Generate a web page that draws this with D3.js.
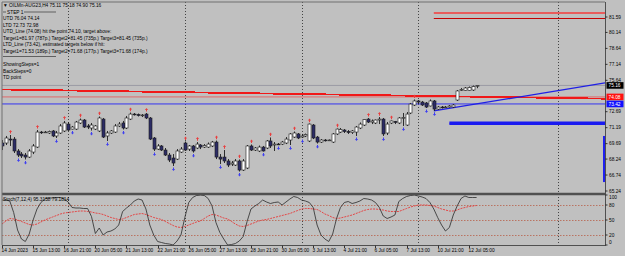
<!DOCTYPE html>
<html>
<head>
<meta charset="utf-8">
<script src="https://cdn.jsdelivr.net/npm/d3@7"></script>
<style>
body { margin: 0; background: #c0c0c0; }
svg { display: block; font-family: "Liberation Sans", Arial, sans-serif; }
</style>
</head>
<body>
<div id="chart"></div>
<script>
// H4 bars, 14 Jun 2023 05:00 .. 12 Jul 2023
var opens = [69.75,69.75,70.12,70.12,69.00,68.71,68.62,68.43,68.90,69.37,
  70.78,70.74,70.69,70.88,70.41,70.69,70.88,71.53,71.06,71.06,
  71.63,71.91,71.35,71.16,71.06,70.88,72.00,70.41,70.69,70.78,
  71.35,71.63,71.16,72.00,72.47,72.43,72.33,72.47,72.10,70.22,
  69.18,69.47,69.09,68.62,68.34,68.24,68.90,69.75,69.18,69.47,
  69.28,69.56,69.37,69.37,69.47,69.84,68.43,68.43,68.06,67.77,
  67.68,68.06,67.21,67.40,69.47,69.09,69.00,69.37,69.28,69.94,
  69.56,69.65,69.65,69.75,70.03,70.31,70.60,70.31,70.41,69.94,
  71.44,70.31,69.84,70.03,69.98,69.84,70.60,70.78,70.97,70.83,
  70.74,70.78,71.16,71.44,72.00,71.72,71.63,71.91,72.00,70.69,
  71.63,71.77,71.63,72.10,71.44,72.57,73.32,73.70,73.60,73.51,
  73.23,73.70,72.94,73.13,73.08,73.13,73.13,73.79,74.73,74.68,
  74.68,74.73,75.11];
var highs = [70.03,70.41,70.50,70.31,69.18,68.90,68.81,69.18,69.65,70.97,
  70.88,70.88,70.92,70.97,70.88,71.53,71.82,71.72,71.35,71.82,
  72.05,72.00,71.53,71.63,71.44,72.24,72.10,70.88,70.97,71.53,
  71.72,71.82,72.29,72.61,72.57,72.52,72.47,72.57,72.19,70.31,
  69.65,69.56,69.28,68.81,68.71,69.18,69.37,69.89,69.56,69.56,
  69.84,69.65,69.65,69.80,69.94,69.98,68.71,69.09,68.24,68.06,
  68.24,68.20,68.24,69.56,69.61,69.37,69.51,69.47,70.03,70.27,
  69.84,69.75,69.94,70.31,70.69,70.83,70.69,70.60,70.64,71.58,
  71.53,70.41,70.12,70.12,70.08,70.69,71.11,71.16,71.06,70.97,
  70.97,71.35,71.68,72.00,72.10,71.96,71.96,72.19,72.10,71.72,
  71.86,71.82,72.19,72.57,72.66,73.51,73.84,73.79,73.70,73.60,
  73.84,73.79,73.23,73.23,73.23,73.32,73.41,74.73,74.92,75.01,
  75.06,75.15,75.18];
var lows = [69.09,69.56,69.47,68.81,68.43,68.34,68.20,68.34,68.71,69.28,
  70.60,70.69,70.60,70.31,70.22,70.60,70.78,70.88,71.02,70.97,
  71.53,71.16,71.06,70.92,70.97,70.78,70.22,69.94,70.60,70.69,
  71.25,71.02,71.06,71.91,72.33,72.24,72.19,72.00,70.03,69.00,
  69.09,69.00,68.53,67.96,67.59,68.15,68.81,69.00,69.00,68.85,
  69.18,69.18,69.28,69.28,69.37,68.24,67.77,67.87,67.49,67.59,
  67.59,67.07,67.12,67.30,69.00,69.00,68.90,68.95,69.18,69.28,
  69.00,69.56,69.56,69.65,69.56,70.22,70.12,70.22,70.31,69.84,
  70.12,69.70,69.75,69.89,69.94,69.75,70.50,70.69,70.69,70.60,
  70.60,70.41,71.06,71.35,71.63,71.53,71.53,71.53,70.41,70.50,
  71.53,71.53,71.53,71.35,71.35,72.47,73.23,73.41,73.23,73.04,
  73.18,72.76,72.85,72.99,73.04,73.08,73.04,73.70,74.64,74.64,
  74.64,74.64,74.90];
var closes = [69.47,70.22,70.03,69.00,68.62,68.53,68.43,69.00,69.47,70.78,
  70.74,70.78,70.83,70.41,70.69,71.35,71.63,70.97,71.25,71.72,
  71.91,71.25,71.25,71.44,71.35,72.10,70.31,70.69,70.88,71.35,
  71.53,71.16,72.10,72.47,72.43,72.33,72.38,72.10,70.12,69.18,
  69.47,69.09,68.62,68.15,67.87,69.00,69.18,69.09,69.47,69.00,
  69.65,69.37,69.51,69.65,69.84,68.43,68.24,68.06,67.68,67.87,
  68.06,67.21,68.06,69.47,69.09,69.28,69.37,69.00,69.94,69.47,
  69.65,69.61,69.84,70.12,70.60,70.69,70.22,70.41,70.55,71.53,
  70.22,69.84,70.03,69.98,70.03,70.60,71.06,71.02,70.83,70.74,
  70.88,71.25,71.53,71.96,71.72,71.82,71.91,72.00,70.60,71.53,
  71.82,71.68,72.10,72.15,72.47,73.41,73.70,73.60,73.32,73.13,
  73.70,72.94,73.13,73.08,73.13,73.23,73.32,74.64,74.78,74.92,
  74.97,75.06,75.16];

// fractal arrows (bar index)
var upFractals = [2, 9, 16, 20, 25, 33, 37, 47, 50, 55, 57, 61, 64, 69, 75, 79, 86, 94, 97, 100, 106];
var downFractals = [4, 6, 14, 18, 23, 27, 31, 39, 44, 49, 56, 61, 67, 71, 74, 77, 81, 91, 98, 103, 109, 111];

// stochastic (7,12,4) main and signal, one value per bar
var stochMain = [90,90,88,65,30,12,7,22,50,72,85,92,94,94,95,95,92,86,75,74,
  74,73,73,57,23,34,20,26,28,32,40,67,74,80,88,92,90,72,40,20,
  7,5,3,2,0,8,20,55,85,95,99,100,99,93,78,45,25,12,0,1,
  3,8,17,47,72,78,83,90,86,83,85,86,80,86,92,97,95,90,88,85,
  75,40,20,12,7,22,53,75,85,87,83,85,88,93,92,90,85,75,58,53,
  56,60,87,93,97,99,100,98,96,93,85,72,55,40,28,35,60,78,93,98,
  95,95,95];
var stochSignal = [42,48,53,52,50,47,44,41,40,42,46,50,53,56,59,62,64,65,66,67,
  68,68,67,66,64,63,61,58,55,53,51,52,55,58,61,62,63,61,58,55,
  53,51,47,43,39,36,35,37,40,43,46,48,53,58,61,60,57,54,52,47,
  42,38,37,39,42,45,48,50,51,53,55,57,59,61,63,66,69,72,73,73,
  72,71,67,62,59,55,53,54,56,58,60,63,66,69,71,72,72,71,70,68,
  67,67,67,70,73,76,78,80,80,80,79,78,75,72,70,68,68,70,73,75,
  77,78,79];
var stochLevels = [80, 50, 20];
var stochTicks = [100, 80, 50, 20, 0];

// price axis
var priceTicks = [81.59, 80.14, 78.64, 77.14, 75.64, 72.69, 71.19, 69.69, 68.24, 66.74, 65.24];
var bidPrice = 75.16;
var utdLevel = 74.08;
var ltdLevel = 73.42;
// UTD trend line (bar, price) and LTD trend line (bar, price)
var utdLine = [[0, 74.78], [122, 74.10]];
var ltdLine = [[111, 72.76], [122, 73.42]];
var upTargets = [81.97, 81.45];
var downTargets = [71.68, 71.53];
var blueBar = [70.41, 66.08];

// time axis
var timeLabels = ["14 Jun 2023", "15 Jun 13:00", "16 Jun 21:00", "20 Jun 05:00", "21 Jun 13:00",
  "22 Jun 21:00", "26 Jun 05:00", "27 Jun 13:00", "28 Jun 21:00", "30 Jun 05:00", "3 Jul 13:00",
  "4 Jul 21:00", "6 Jul 05:00", "7 Jul 13:00", "10 Jul 21:00", "12 Jul 05:00"];
var gridBars = [17, 47, 77, 107, 143];

var legendLines = [
  "UTD 76.04  74.14",
  "LTD  72.73  72.98",
  "UTD_Line (74.08) hit the point 74.10, target above:",
  "Target1=81.97 (787p.) Target2=81.45 (735p.) Target3=81.45 (735p.)",
  "LTD_Line (73.42), estimated targets below if hit:",
  "Target1=71.53 (189p.) Target2=71.68 (177p.) Target3=71.68 (174p.)"
];
var legendLines2 = ["ShowingSteps=1", "BackSteps=0", "TD point"];

function drawChart() {
  var width = 625;
  var height = 256;
  var axisX = 605;
  var fs = 4.8;

  var x = d3.scaleLinear().domain([0, 122]).range([2, 476.6]);
  var y = d3.scaleLinear().domain([65.24, 81.59]).range([191, 17]);
  var ys = d3.scaleLinear().domain([0, 100]).range([245, 195]);
  var lastBar = x.invert(axisX);

  var svg = d3.select('#chart').append('svg')
    .attr('width', width)
    .attr('height', height);

  svg.append('rect').attr('width', width).attr('height', height).attr('fill', '#c0c0c0');

  var defs = svg.append('defs');
  defs.append('clipPath').attr('id', 'clipMain')
    .append('rect').attr('x', 2).attr('y', 2).attr('width', axisX - 2).attr('height', 191);
  defs.append('clipPath').attr('id', 'clipSub')
    .append('rect').attr('x', 2).attr('y', 195).attr('width', axisX - 2).attr('height', 50);

  // vertical grid
  svg.append('g').selectAll('line')
    .data(gridBars)
    .enter().append('line')
      .attr('x1', d => Math.round(x(d)) + 0.5)
      .attr('x2', d => Math.round(x(d)) + 0.5)
      .attr('y1', 2).attr('y2', 245)
      .attr('stroke', '#444')
      .attr('stroke-dasharray', '1,2');

  var main = svg.append('g').attr('clip-path', 'url(#clipMain)');

  // horizontal levels
  main.append('line')
    .attr('x1', 2).attr('x2', axisX)
    .attr('y1', y(bidPrice)).attr('y2', y(bidPrice))
    .attr('stroke', '#9a9aa4').attr('stroke-width', 1);
  main.append('line')
    .attr('x1', 2).attr('x2', axisX)
    .attr('y1', y(utdLevel)).attr('y2', y(utdLevel))
    .attr('stroke', '#e06868').attr('stroke-width', 1);
  main.append('line')
    .attr('x1', 2).attr('x2', axisX)
    .attr('y1', y(ltdLevel)).attr('y2', y(ltdLevel))
    .attr('stroke', '#3434f0').attr('stroke-width', 1);

  // UTD trend line, extended to the right edge
  var utdSlope = (utdLine[1][1] - utdLine[0][1]) / (utdLine[1][0] - utdLine[0][0]);
  main.append('line')
    .attr('x1', x(utdLine[0][0])).attr('y1', y(utdLine[0][1]))
    .attr('x2', x(lastBar)).attr('y2', y(utdLine[0][1] + utdSlope * (lastBar - utdLine[0][0])))
    .attr('stroke', '#f01818').attr('stroke-width', 1.8)
    .attr('shape-rendering', 'crispEdges');

  // LTD trend line
  var ltdSlope = (ltdLine[1][1] - ltdLine[0][1]) / (ltdLine[1][0] - ltdLine[0][0]);
  main.append('line')
    .attr('x1', x(ltdLine[0][0])).attr('y1', y(ltdLine[0][1]))
    .attr('x2', x(lastBar)).attr('y2', y(ltdLine[0][1] + ltdSlope * (lastBar - ltdLine[0][0])))
    .attr('stroke', '#1f1fe6').attr('stroke-width', 1.3);

  // targets
  main.append('line')
    .attr('x1', x(111)).attr('x2', axisX)
    .attr('y1', y(upTargets[0])).attr('y2', y(upTargets[0]))
    .attr('stroke', '#e85c5c').attr('stroke-width', 2);
  main.append('line')
    .attr('x1', x(111)).attr('x2', axisX)
    .attr('y1', y(upTargets[1])).attr('y2', y(upTargets[1]))
    .attr('stroke', '#c40000').attr('stroke-width', 1);
  main.selectAll('.dtarget')
    .data(downTargets)
    .enter().append('line')
      .attr('x1', x(115)).attr('x2', axisX)
      .attr('y1', d => y(d)).attr('y2', d => y(d))
      .attr('stroke', '#1a1af0').attr('stroke-width', 2);

  main.append('rect')
    .attr('x', axisX - 2).attr('width', 2)
    .attr('y', y(blueBar[0])).attr('height', y(blueBar[1]) - y(blueBar[0]))
    .attr('fill', '#2020f0');

  // candles
  var bars = d3.range(opens.length);
  var candles = main.append('g');
  candles.selectAll('.wick')
    .data(bars)
    .enter().append('line')
      .attr('x1', i => Math.round(x(i)) + 0.5)
      .attr('x2', i => Math.round(x(i)) + 0.5)
      .attr('y1', i => y(highs[i]))
      .attr('y2', i => y(lows[i]))
      .attr('stroke', '#1c1c1c').attr('stroke-width', 0.9);
  candles.selectAll('.body')
    .data(bars)
    .enter().append('rect')
      .attr('x', i => Math.round(x(i)) - 1)
      .attr('width', 3)
      .attr('y', i => y(Math.max(opens[i], closes[i])))
      .attr('height', i => Math.max(0.8, Math.abs(y(opens[i]) - y(closes[i]))))
      .attr('fill', i => closes[i] >= opens[i] ? '#ffffff' : '#2c2c66')
      .attr('stroke', '#1c1c1c').attr('stroke-width', 0.6);

  // fractal arrows
  candles.selectAll('.up')
    .data(upFractals)
    .enter().append('path')
      .attr('transform', i => 'translate(' + (Math.round(x(i)) + 0.5) + ',' + (y(highs[i]) - 3) + ')')
      .attr('d', 'M0,-2L-1.6,0L-0.5,0L-0.5,1.6L0.5,1.6L0.5,0L1.6,0Z')
      .attr('fill', '#e84040');
  candles.selectAll('.down')
    .data(downFractals)
    .enter().append('path')
      .attr('transform', i => 'translate(' + (Math.round(x(i)) + 0.5) + ',' + (y(lows[i]) + 3) + ')')
      .attr('d', 'M0,2L-1.6,0L-0.5,0L-0.5,-1.6L0.5,-1.6L0.5,0L1.6,0Z')
      .attr('fill', '#4040f0');

  // legend
  var leg = svg.append('g').attr('font-size', fs).attr('fill', '#000');
  leg.append('text').attr('x', 3).attr('y', 7).text('\u25BC OILMn-AUG23,H4  75.11 75.18 74.90 75.16');
  leg.append('text').attr('x', 7).attr('y', 13.5).text('STEP 1');
  leg.append('line').attr('x1', 3).attr('x2', 6).attr('y1', 12).attr('y2', 12).attr('stroke', '#000').attr('stroke-width', 0.5);
  leg.append('line').attr('x1', 24).attr('x2', 56).attr('y1', 12).attr('y2', 12).attr('stroke', '#000').attr('stroke-width', 0.5);
  leg.selectAll('.l1')
    .data(legendLines)
    .enter().append('text')
      .attr('x', 3)
      .attr('y', (d, k) => 20 + k * 6.6)
      .text(d => d);
  leg.append('line').attr('x1', 3).attr('x2', 56).attr('y1', 56.5).attr('y2', 56.5).attr('stroke', '#000').attr('stroke-width', 0.5);
  leg.selectAll('.l2')
    .data(legendLines2)
    .enter().append('text')
      .attr('x', 3)
      .attr('y', (d, k) => 66 + k * 6.6)
      .text(d => d);

  // separator between main and sub window
  svg.append('line').attr('x1', 2).attr('x2', axisX).attr('y1', 194).attr('y2', 194)
    .attr('stroke', '#505050').attr('stroke-width', 2.5);

  // stochastic window
  var sub = svg.append('g').attr('clip-path', 'url(#clipSub)');
  sub.selectAll('.lvl')
    .data(stochLevels)
    .enter().append('line')
      .attr('x1', 2).attr('x2', axisX)
      .attr('y1', d => ys(d) + 0.5).attr('y2', d => ys(d) + 0.5)
      .attr('stroke', '#b8604a').attr('stroke-width', 0.8)
      .attr('stroke-dasharray', '1.5,1.5');
  sub.append('path')
    .datum(stochSignal)
    .attr('fill', 'none')
    .attr('stroke', '#e83838').attr('stroke-width', 0.9)
    .attr('stroke-dasharray', '2,1')
    .attr('d', d3.line().x((d, i) => x(i)).y(d => ys(d)));
  sub.append('path')
    .datum(stochMain)
    .attr('fill', 'none')
    .attr('stroke', '#2a2a2a').attr('stroke-width', 0.8)
    .attr('d', d3.line().x((d, i) => x(i)).y(d => ys(d)));
  svg.append('text').attr('x', 3).attr('y', 200.5).attr('font-size', fs)
    .text('Stoch(7,12,4) 95.3158 79.1814');

  // frame
  svg.append('line').attr('x1', 2).attr('x2', 2).attr('y1', 2).attr('y2', 245).attr('stroke', '#707070');
  svg.append('line').attr('x1', 2).attr('x2', axisX).attr('y1', 2).attr('y2', 2).attr('stroke', '#707070');
  svg.append('line').attr('x1', 2).attr('x2', axisX).attr('y1', 245.5).attr('y2', 245.5).attr('stroke', '#505050');
  svg.append('line').attr('x1', axisX + 0.5).attr('x2', axisX + 0.5).attr('y1', 2).attr('y2', 246).attr('stroke', '#505050');

  // price axis
  var pax = svg.append('g').attr('font-size', fs);
  priceTicks.forEach(function(v) {
    pax.append('line').attr('x1', axisX).attr('x2', axisX + 2.5).attr('y1', y(v)).attr('y2', y(v)).attr('stroke', '#333');
    pax.append('text').attr('x', axisX + 4).attr('y', y(v) + 1.6).text(v.toFixed(2));
  });
  [[bidPrice, '#000000'], [utdLevel, '#ff1010'], [ltdLevel, '#1010ff']].forEach(function(b) {
    pax.append('rect').attr('x', axisX + 1.5).attr('y', y(b[0]) - 3.3).attr('width', 17).attr('height', 6.6).attr('fill', b[1]);
    pax.append('text').attr('x', axisX + 3.5).attr('y', y(b[0]) + 1.6).attr('fill', '#fff').text(b[0].toFixed(2));
  });

  stochTicks.forEach(function(v) {
    var ty = Math.min(243.5, Math.max(199, ys(v) + 1.6));
    pax.append('line').attr('x1', axisX).attr('x2', axisX + 2.5).attr('y1', ys(v)).attr('y2', ys(v)).attr('stroke', '#333');
    pax.append('text').attr('x', axisX + 4).attr('y', ty).text(v);
  });

  // time axis
  var tax = svg.append('g').attr('font-size', fs);
  timeLabels.forEach(function(t, k) {
    var tx = Math.round(x(k * 8)) + 0.5;
    tax.append('line').attr('x1', tx).attr('x2', tx).attr('y1', 245.5).attr('y2', 248).attr('stroke', '#333');
    tax.append('text').attr('x', tx - 1).attr('y', 251.5).text(t);
  });
}

window.onload = drawChart;
</script>
</body>
</html>
